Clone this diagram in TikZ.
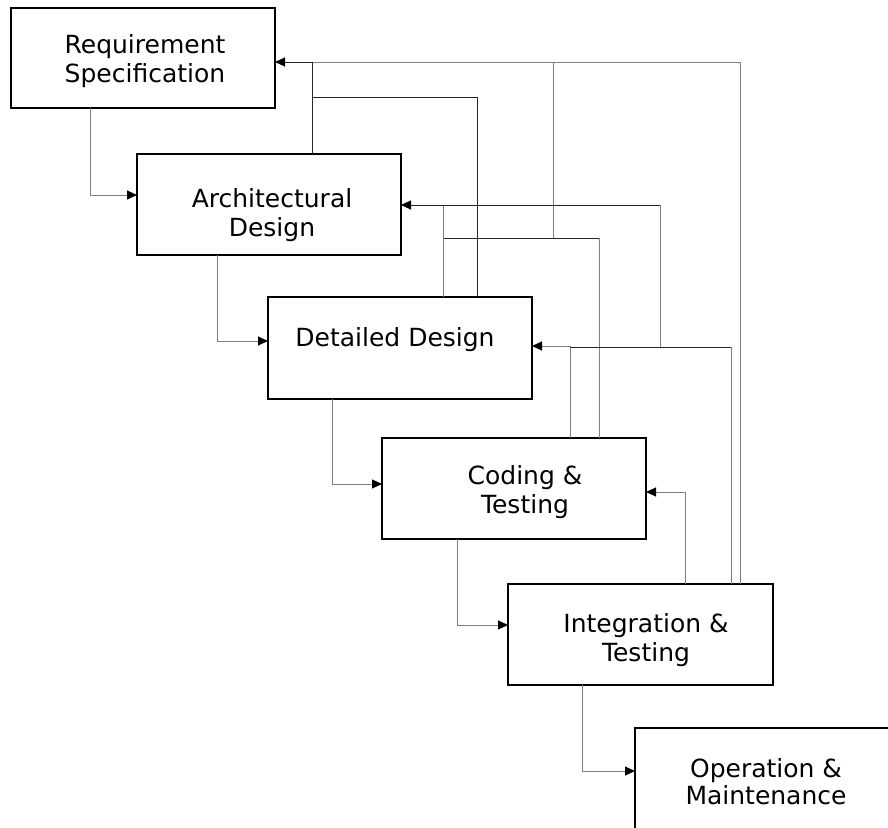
\documentclass[tikz,border=0pt]{standalone}
\usepackage{fontspec}
\setmainfont{DejaVu Sans}
\usetikzlibrary{arrows.meta}
\begin{document}
\begin{tikzpicture}[x=1pt,y=-1pt,
  stage/.style={draw=black, line width=1.3pt, rectangle, anchor=north west,
    inner sep=0pt, outer sep=0pt},
  lbl/.style={anchor=base, font=\fontsize{25}{30}\selectfont, inner sep=0pt},
  pale/.style={draw=black!50, line width=1pt},
  dark/.style={draw=black!85, line width=1pt},
  tip/.style={-{Triangle[length=10pt,width=9pt,color=black]}}]

\fill[white] (0,0) rectangle (888,827);
\clip (0,0) rectangle (888,827);

% phase boxes
\node[stage, minimum width=264pt, minimum height=100pt] (req)   at (11,8)    {};
\node[stage, minimum width=264pt, minimum height=101pt] (arch)  at (137,154) {};
\node[stage, minimum width=264pt, minimum height=102pt] (det)   at (268,297) {};
\node[stage, minimum width=264pt, minimum height=101pt] (cod)   at (382,438) {};
\node[stage, minimum width=265pt, minimum height=101pt] (integ) at (508,584) {};
\node[stage, minimum width=300pt, minimum height=150pt] (op)    at (635,728) {};

% phase names
\node[lbl] (reqA)  at (145,53)  {Requirement};
\node[lbl] (reqB)  at (145,82)  {Specification};
\node[lbl] (archA) at (272,207) {Architectural};
\node[lbl] (archB) at (272,236) {Design};
\node[lbl] (detA)  at (395,346) {Detailed Design};
\node[lbl] (codA)  at (525,484) {Coding \&};
\node[lbl] (codB)  at (525,513) {Testing};
\node[lbl] (intA)  at (646,632) {Integration \&};
\node[lbl] (intB)  at (646,661) {Testing};
\node[lbl] (opA)   at (766,777) {Operation \&};
\node[lbl] (opB)   at (766,804) {Maintenance};

% junctions and bends of the feedback lines
\coordinate (toReq)      at (312,62);
\coordinate (reqBus)     at (312,97);
\coordinate (midTop)     at (553,62);
\coordinate (midLow)     at (553,238);
\coordinate (codBend)    at (599,238);
\coordinate (archBus)    at (443,238);
\coordinate (archJoin)   at (443,205);
\coordinate (archCorner) at (660,205);
\coordinate (archTap)    at (660,347);
\coordinate (detBus)     at (570,347);
\coordinate (detCorner)  at (731,347);

% forward flow
\draw[pale, tip] (req.south -| 90,0)    |- (arch.west |- 0,195);
\draw[pale, tip] (arch.south -| 217,0)  |- (det.west |- 0,341);
\draw[pale, tip] (det.south -| 332,0)   |- (cod.west |- 0,484);
\draw[pale, tip] (cod.south -| 457,0)   |- (integ.west |- 0,625);
\draw[pale, tip] (integ.south -| 582,0) |- (op.west |- 0,771);

% feedback to Requirement Specification
\draw[pale] (toReq) -- (midTop);
\draw[pale] (midLow) -- (midTop);
\draw[pale] (integ.north -| 740,0) |- (midTop);
\draw[dark, tip] (arch.north -| 312,0) |- (req.east |- toReq);
\draw[dark] (det.north -| 477,0) |- (reqBus);

% feedback to Architectural Design
\draw[pale] (cod.north -| 599,0) -- (codBend);
\draw[dark] (codBend) -- (archBus);
\draw[pale] (det.north -| 443,0) -- (archJoin);
\draw[pale] (archTap) -- (archCorner);
\draw[dark, tip] (archCorner) -- (arch.east |- archCorner);

% feedback to Detailed Design
\draw[pale, tip] (cod.north -| 570,0) |- (det.east |- 0,346);
\draw[dark] (detBus) -- (detCorner);
\draw[pale] (integ.north -| 731,0) -- (detCorner);

% feedback to Coding & Testing
\draw[pale, tip] (integ.north -| 685,0) |- (cod.east |- 0,492);
\end{tikzpicture}
\end{document}
